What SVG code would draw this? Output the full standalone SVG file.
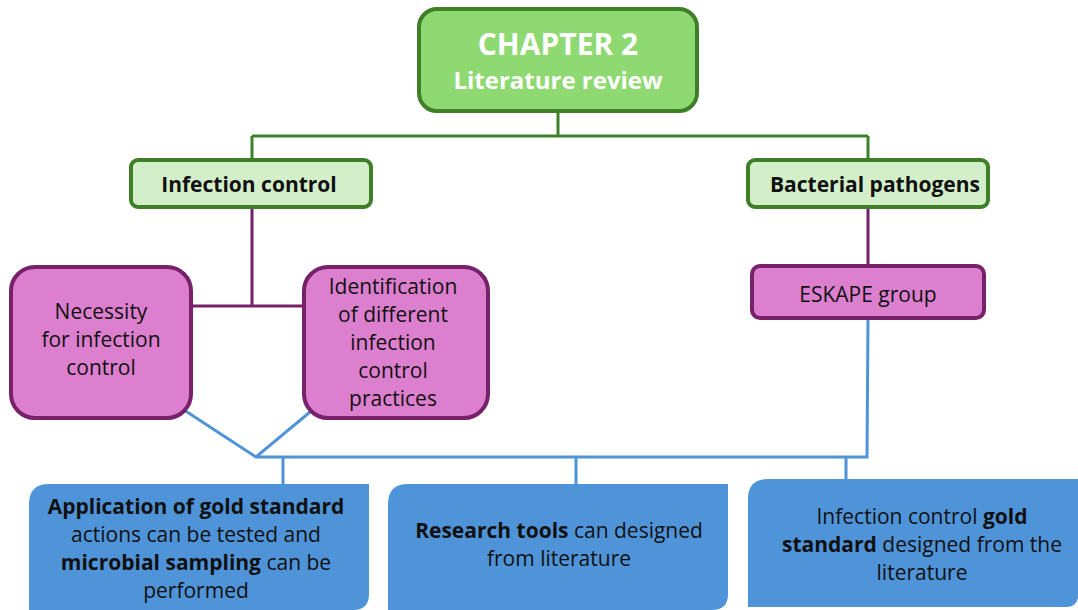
<svg xmlns="http://www.w3.org/2000/svg" width="1078" height="610" viewBox="0 0 1078 610">
<style>
text{font-family:"Open Sans","Liberation Sans",Arial,sans-serif;text-anchor:middle;fill:#111;}
.b{font-weight:bold;}
.green{fill:#d3efc9;stroke:#3e7f28;stroke-width:4;}
.top{fill:#8fd973;stroke:#3e7f28;stroke-width:4;}
.pink{fill:#dd7fcf;stroke:#77216a;stroke-width:4;}
.blue{fill:#4f94d8;}
.gl{stroke:#3e7f28;stroke-width:3;fill:none;}
.pl{stroke:#77216a;stroke-width:3;fill:none;}
.bl{stroke:#4f94d8;stroke-width:3;fill:none;}
.t19{font-size:21px;}
</style>
<g id="connectors">
<path class="gl" d="M558 111 V136 M252 136 H868 M252 136 V160 M868 136 V160"/>
<path class="pl" d="M252 207 V306 M190 306 H304 M868 207 V266"/>
<path class="bl" d="M184 410 L256 457 L310 412 M256 457 H867 L868 318 M283 457 V484 M576 457 V484 M846 457 V480"/>
</g>
<g id="chapter">
<rect class="top" x="419" y="9" width="278" height="102" rx="18"/>
<text class="b" x="558" y="55" style="font-size:30px;fill:#fff">CHAPTER 2</text>
<text class="b" x="558" y="89" style="font-size:24px;fill:#fff">Literature review</text>
</g>
<g id="infection-control">
<rect class="green" x="131" y="160" width="240" height="47" rx="7"/>
<text class="b t19" x="249" y="192">Infection control</text>
</g>
<g id="bacterial-pathogens">
<rect class="green" x="748" y="160" width="240" height="47" rx="7"/>
<text class="b t19" x="875" y="192">Bacterial pathogens</text>
</g>
<g id="necessity">
<rect class="pink" x="11" y="267" width="180" height="151" rx="24"/>
<text class="t19" x="101" y="319">Necessity</text>
<text class="t19" x="101" y="347">for infection</text>
<text class="t19" x="101" y="375">control</text>
</g>
<g id="identification">
<rect class="pink" x="304" y="267" width="184" height="151" rx="24"/>
<text class="t19" x="393" y="294">Identification</text>
<text class="t19" x="393" y="322">of different</text>
<text class="t19" x="393" y="350">infection</text>
<text class="t19" x="393" y="378">control</text>
<text class="t19" x="393" y="406">practices</text>
</g>
<g id="eskape">
<rect class="pink" x="752" y="266" width="232" height="52" rx="8"/>
<text class="t19" x="868" y="302">ESKAPE group</text>
</g>
<g id="application">
<path class="blue" d="M49 484 H369 V594 Q369 610 353 610 H29 V504 Q29 484 49 484 Z"/>
<text class="t19" x="196" y="514"><tspan class="b">Application of gold standard</tspan></text>
<text class="t19" x="196" y="542">actions can be tested and</text>
<text class="t19" x="196" y="570"><tspan class="b">microbial sampling</tspan> can be</text>
<text class="t19" x="196" y="598">performed</text>
</g>
<g id="research">
<path class="blue" d="M408 484 H728 V594 Q728 610 712 610 H388 V504 Q388 484 408 484 Z"/>
<text class="t19" x="559" y="538"><tspan class="b">Research tools</tspan> can designed</text>
<text class="t19" x="559" y="566">from literature</text>
</g>
<g id="gold-standard">
<path class="blue" d="M768 479 H1078 V598 Q1076 607 1066 607 H748 V499 Q748 479 768 479 Z"/>
<text class="t19" x="922" y="524">Infection control <tspan class="b">gold</tspan></text>
<text class="t19" x="922" y="552"><tspan class="b">standard</tspan> designed from the</text>
<text class="t19" x="922" y="580">literature</text>
</g>
</svg>
